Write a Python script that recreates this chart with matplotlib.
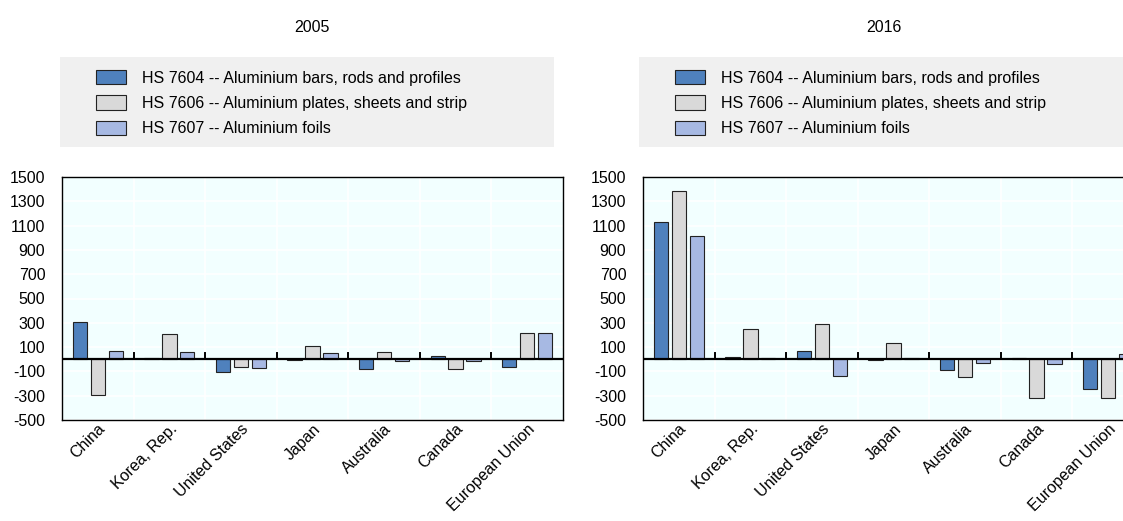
import numpy as np
import matplotlib.pyplot as plt
from matplotlib.patches import Rectangle, Patch

plt.rcParams['font.family'] = ['Liberation Sans', 'DejaVu Sans']
plt.rcParams['axes.unicode_minus'] = False

countries = ['China', 'Korea, Rep.', 'United States', 'Japan', 'Australia', 'Canada', 'European Union']
series_names = ['HS 7604 -- Aluminium bars, rods and profiles',
                'HS 7606 -- Aluminium plates, sheets and strip',
                'HS 7607 -- Aluminium foils']
colors = ['#4F81BD', '#D9D9D9', '#A7B9E3']

# values
bars_2005 = [307, 8, -108, -3, -78, 29, -60]
plates_2005 = [-297, 206, -61, 113, 56, -82, 212]
foils_2005 = [64, 57, -75, 53, -15, -18, 212]

bars_2016 = [1131, 16, 71, -3, -85, 14, -243]
plates_2016 = [1385, 249, 292, 131, -145, -320, -322]
foils_2016 = [1014, 11, -134, 11, -30, -41, 41]

panels = [('2005', [bars_2005, plates_2005, foils_2005]),
          ('2016', [bars_2016, plates_2016, foils_2016])]

W, H = 1123, 521
fs = 11.5
fig = plt.figure(figsize=(W / 100, H / 100), dpi=100)

axes_left = [62, 643]
title_x = [312, 884]
box_left = [60, 639]
box_right = [554, 1140]

x = np.arange(len(countries))
for i, (year, series) in enumerate(panels):
    ax = fig.add_axes([axes_left[i] / W, 1 - 420 / H, 501 / W, 243 / H])
    ax.set_facecolor('#F2FFFF')

    # grid
    for yv in range(-500, 1501, 200):
        ax.axhline(yv, color='white', lw=1.2, zorder=0)
    for b in x[1:] - 0.5:
        ax.axvline(b, color='white', lw=1.2, zorder=0)

    for k, vals in enumerate(series):
        ax.bar(x + (k - 1) * 0.25, vals, width=0.2, color=colors[k],
               edgecolor='#222222', linewidth=0.8, zorder=2)

    ax.axhline(0, color='black', lw=1.6, zorder=3)
    for b in x[1:] - 0.5:
        ax.plot([b, b], [0, 55], color='black', lw=1.4, zorder=3)

    ax.set_xlim(-0.5, len(countries) - 0.5)
    ax.set_ylim(-500, 1500)
    ax.set_yticks(range(-500, 1501, 200))
    ax.tick_params(axis='y', labelsize=fs, length=0, pad=12)
    ax.set_xticks(x)
    ax.set_xticklabels(countries, rotation=45, ha='right', va='top',
                       rotation_mode='anchor', fontsize=fs)
    ax.tick_params(axis='x', length=0, pad=1)
    for s in ax.spines.values():
        s.set_color('black')
        s.set_linewidth(1.0)

    fig.text(title_x[i] / W, 1 - 28 / H, year, ha='center', va='center', fontsize=fs)

    fig.patches.append(Rectangle((box_left[i] / W, 1 - 147 / H),
                                 (box_right[i] - box_left[i]) / W, 90 / H,
                                 transform=fig.transFigure, facecolor='#F0F0F0',
                                 edgecolor='none', zorder=0))
    handles = [Patch(facecolor=colors[k], edgecolor='#222222', linewidth=0.8)
               for k in range(3)]
    fig.legend(handles, series_names, loc='upper left',
               bbox_to_anchor=((box_left[i] + 36) / W, 1 - 70 / H),
               frameon=False, fontsize=fs, borderpad=0, borderaxespad=0,
               handlelength=1.9, handleheight=1.0, handletextpad=0.95,
               labelspacing=0.61)

fig.savefig('out.png', dpi=100)
